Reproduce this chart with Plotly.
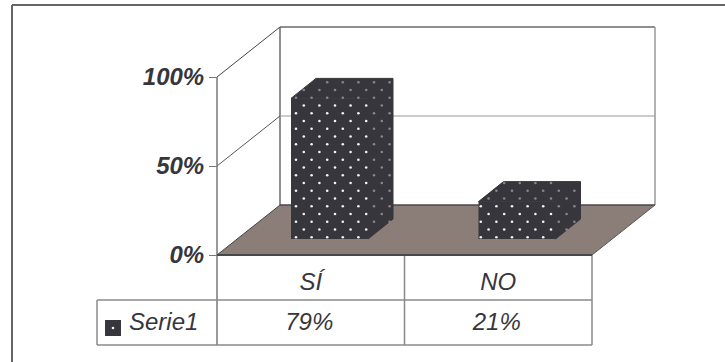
import numpy as np
import plotly.graph_objects as go

# Chart data
categories = ["SÍ", "NO"]
values = [79, 21]
series_name = "Serie1"
y_ticks = [0, 50, 100]
y_tick_labels = ["0%", "50%", "100%"]
category_positions = [0.5, 1.5]

W, H = 725, 362
X0_PX, Y0_PX = 217, 255          # pixel position of the axis origin
PX_PER_X, PX_PER_PCT = 187.5, 1.78

INK = "#37363c"
FLOOR = "#8b7d78"
WALL = "#6a6a6a"
RULE = "#8a8a8a"
FONT = "Liberation Sans, Arial, sans-serif"

# Oblique projection offsets, in axis units
WALL_DX, WALL_DY = 63 / PX_PER_X, 50 / PX_PER_PCT
BAR_DX, BAR_DY = 25 / PX_PER_X, 20 / PX_PER_PCT
BAR_BASE = 16 / PX_PER_PCT
BAR_WIDTH = 77 / PX_PER_X
BAR_SHIFT = 0.1
DOT_PHASE = [5.0 / PX_PER_X, 2.3 / PX_PER_X]
DOT_STEP_X, DOT_STEP_Y = 15.6 / PX_PER_X, 7.75 / PX_PER_PCT


def px_x(px):
    return (px - X0_PX) / PX_PER_X


def px_y(px):
    return (Y0_PX - px) / PX_PER_PCT


def line(x0, y0, x1, y1, color=RULE, width=1.5):
    return dict(type="line", xref="x", yref="y", x0=x0, y0=y0, x1=x1, y1=y1,
                layer="below", line=dict(color=color, width=width))


top_pct = y_ticks[-1]
wall_top = top_pct + WALL_DY
table_top, table_bottom = px_y(300), px_y(345)
table_left = px_x(97)

floor_path = (f"M 0 0 L {WALL_DX} {WALL_DY} L {2 + WALL_DX} {WALL_DY} L 2 0 Z")
shapes = [
    dict(type="path", xref="x", yref="y", path=floor_path, layer="below",
         fillcolor=FLOOR, line=dict(width=0)),
    # back wall
    line(WALL_DX, WALL_DY, WALL_DX, wall_top, WALL, 1.5),
    line(WALL_DX, wall_top, 2 + WALL_DX, wall_top, WALL, 1.5),
    line(2 + WALL_DX, WALL_DY, 2 + WALL_DX, wall_top, "#999999", 1.5),
    line(WALL_DX, WALL_DY, 2 + WALL_DX, WALL_DY, "#48474c", 1.5),
    line(WALL_DX, 50 + WALL_DY, 2 + WALL_DX, 50 + WALL_DY, "#999999", 1.2),
    # side wall
    line(0, 50, WALL_DX, 50 + WALL_DY, "#555555", 1),
    line(0, 100, WALL_DX, wall_top, "#444444", 1),
    line(0, 0, WALL_DX, WALL_DY, "#444444", 1),
    line(2, 0, 2 + WALL_DX, WALL_DY, "#555555", 1),
    # data table grid
    line(0, top_pct, 0, table_bottom, "#777777", 1.5),
    line(1, 0, 1, table_bottom),
    line(2, 0, 2, table_bottom),
    line(table_left, table_top, 2, table_top),
    line(table_left, table_bottom, 2, table_bottom),
    line(table_left, table_top, table_left, table_bottom),
    line(0, 0, 2, 0, "#48474c", 2),
    # outer frame
    dict(type="line", xref="paper", yref="paper", x0=12 / W, y0=1 - 5 / H, x1=1, y1=1 - 5 / H,
         layer="below", line=dict(color="#666666", width=2)),
    dict(type="line", xref="paper", yref="paper", x0=12 / W, y0=1 - 5 / H, x1=12 / W, y1=0,
         layer="below", line=dict(color="#666666", width=2)),
]

bar_centers = [p + BAR_SHIFT for p in category_positions]

fig = go.Figure()

# Front faces of the columns
fig.add_trace(go.Bar(
    x=bar_centers, y=values, base=[BAR_BASE] * len(values), width=BAR_WIDTH,
    marker=dict(color=INK, line=dict(width=0)), showlegend=False, hoverinfo="skip",
))

# Side and top faces, plus the dotted fill of each column
bright_x, bright_y, dim_x, dim_y = [], [], [], []
for center, value, phase in zip(bar_centers, values, DOT_PHASE):
    left = center - BAR_WIDTH / 2
    right = center + BAR_WIDTH / 2
    top = BAR_BASE + value
    fig.add_trace(go.Scatter(
        x=[left, left + BAR_DX, right + BAR_DX, right + BAR_DX, right, right, left],
        y=[top, top + BAR_DY, top + BAR_DY, BAR_BASE + BAR_DY, BAR_BASE, top, top],
        mode="lines", fill="toself", fillcolor=INK, line=dict(width=1, color=INK),
        showlegend=False, hoverinfo="skip", cliponaxis=False,
    ))
    rows = int((value + BAR_DY) / DOT_STEP_Y) + 1
    for r in range(rows):
        dot_y = BAR_BASE + 1 + r * DOT_STEP_Y
        offset = DOT_STEP_X / 2 if r % 2 else 0
        for c in range(12):
            dot_x = left + phase + offset + c * DOT_STEP_X
            if dot_x > right + BAR_DX - 0.008:
                break
            if dot_x <= right and dot_y <= top:
                bright_x.append(dot_x)
                bright_y.append(dot_y)
                continue
            # keep dots that fall on the oblique faces only
            rise = (dot_x - right) / BAR_DX * BAR_DY if dot_x > right else 0
            upper = top + BAR_DY if dot_x > right else top + (dot_x - left) / BAR_DX * BAR_DY
            if dot_y >= BAR_BASE + rise and dot_y < upper - 0.8:
                dim_x.append(dot_x)
                dim_y.append(dot_y)

fig.add_trace(go.Scatter(
    x=bright_x, y=bright_y, mode="markers", cliponaxis=False, hoverinfo="skip", showlegend=False,
    marker=dict(color="#f4f2f2", size=2.6, symbol="circle", line=dict(width=0)),
))
fig.add_trace(go.Scatter(
    x=dim_x, y=dim_y, mode="markers", cliponaxis=False, hoverinfo="skip", showlegend=False,
    marker=dict(color="#8f8484", size=2.6, symbol="circle", line=dict(width=0)),
))

# Data table: value row
table_row_y = px_y(324)
fig.add_trace(go.Scatter(
    x=[p - 0.008 for p in category_positions], y=[table_row_y] * len(values), mode="text",
    text=[f"{v}%" for v in values], textposition="middle center",
    textfont=dict(family=FONT, size=24, color=INK, style="italic"),
    showlegend=False, hoverinfo="skip", cliponaxis=False,
))

# Data table: series key
key_x, key_y = px_x(113), px_y(328)
fig.add_trace(go.Scatter(
    x=[key_x], y=[key_y], mode="markers", cliponaxis=False, hoverinfo="skip", showlegend=False,
    marker=dict(color=INK, size=16, symbol="square", line=dict(width=0)),
))
fig.add_trace(go.Scatter(
    x=[key_x], y=[key_y], mode="markers", cliponaxis=False, hoverinfo="skip", showlegend=False,
    marker=dict(color="#f4f2f2", size=2.6, symbol="circle", line=dict(width=0)),
))
fig.add_trace(go.Scatter(
    x=[px_x(129)], y=[table_row_y], mode="text", text=[series_name], textposition="middle right",
    textfont=dict(family=FONT, size=24, color=INK, style="italic"),
    showlegend=False, hoverinfo="skip", cliponaxis=False,
))

fig.update_layout(
    width=W, height=H, margin=dict(l=0, r=0, t=0, b=0), autosize=False,
    paper_bgcolor="white", plot_bgcolor="white", template="none",
    showlegend=False, hovermode=False, shapes=shapes,
    xaxis=dict(
        domain=[0, 1], range=[px_x(0), px_x(W)], anchor="free", position=(H - Y0_PX) / H,
        tickmode="array", tickvals=category_positions, ticktext=categories,
        ticks="outside", ticklen=5, tickcolor="rgba(0,0,0,0)", showgrid=False, zeroline=False, showline=False,
        tickfont=dict(family=FONT, size=24, color=INK, style="italic"), tickangle=0,
    ),
    yaxis=dict(
        domain=[0, 1], range=[px_y(H), px_y(0)], anchor="free", position=X0_PX / W,
        tickmode="array", tickvals=y_ticks, ticktext=y_tick_labels,
        ticks="outside", ticklen=8, tickwidth=1, tickcolor="#777777",
        showgrid=False, zeroline=False, showline=False,
        tickfont=dict(family=FONT, size=24, color=INK, weight="bold", style="italic"),
    ),
)

fig.write_html("out.html", config=dict(displayModeBar=False))
